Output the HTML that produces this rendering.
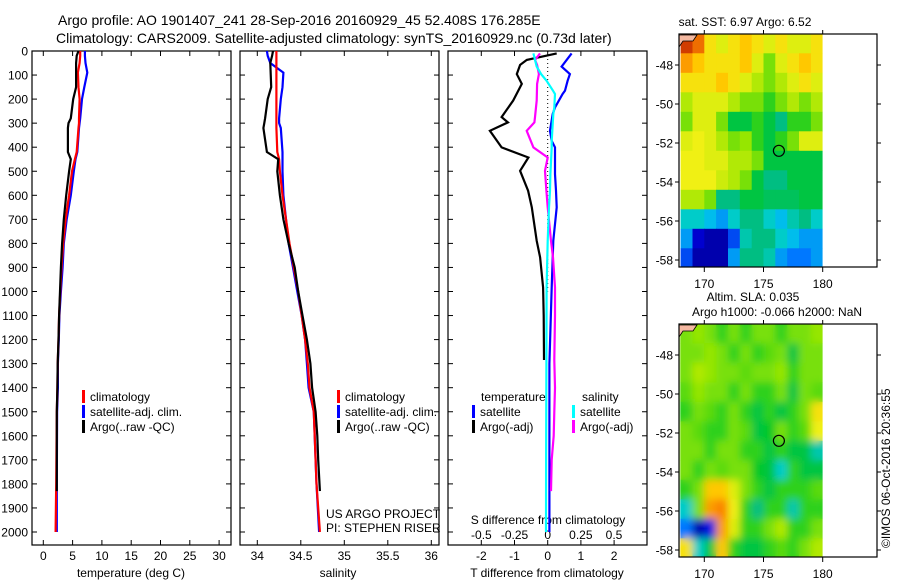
<!DOCTYPE html>
<html><head><meta charset="utf-8">
<style>
html,body{margin:0;padding:0;background:#fff;}
svg{display:block;font-family:"Liberation Sans",sans-serif;}
text{fill:#000;}
</style></head>
<body>
<svg id="fig" width="900" height="580" viewBox="0 0 900 580" xmlns="http://www.w3.org/2000/svg">
<text x="58" y="25" font-size="14">Argo profile: AO 1901407_241 28-Sep-2016 20160929_45 52.408S 176.285E</text>
<text x="56" y="43" font-size="14">Climatology: CARS2009. Satellite-adjusted climatology: synTS_20160929.nc (0.73d later)</text>
<g id="layer"></g>
</svg>
<script>
// ---------- data ----------
const tDepth   = [0,20,50,90,150,200,280,300,320,420,450,500,600,700,800,900,1000,1100,1200,1300,1400,1500,1800,2000];
const tClim    = [6.3,6.3,6.2,5.9,6.0,6.2,6.1,6.1,6.0,5.7,5.4,4.9,4.4,3.8,3.4,3.1,2.9,2.7,2.6,2.45,2.4,2.3,2.2,2.1];
const tSat     = [7.1,7.1,7.2,7.5,7.0,6.6,6.3,6.2,6.1,5.8,5.5,5.2,4.7,4.0,3.5,3.3,3.0,2.75,2.65,2.5,2.5,2.35,2.3,2.3];
const aDepth   = [0,20,50,150,200,280,300,320,420,450,500,600,700,800,900,1000,1100,1200,1300,1400,1500,1600,1700,1830];
const tArgo    = [6.0,5.7,5.6,5.6,5.1,4.7,4.3,4.2,4.2,4.7,4.4,3.9,3.5,3.2,3.0,2.85,2.7,2.6,2.45,2.4,2.3,2.3,2.3,2.3];
const sClim    = [34.22,34.22,34.22,34.22,34.22,34.22,34.22,34.22,34.22,34.23,34.25,34.26,34.29,34.33,34.37,34.42,34.47,34.51,34.55,34.58,34.60,34.65,34.68,34.72];
const sSat     = [34.11,34.12,34.15,34.30,34.29,34.27,34.25,34.25,34.27,34.29,34.29,34.29,34.30,34.33,34.36,34.41,34.46,34.51,34.55,34.57,34.59,34.65,34.68,34.71];
const sArgo    = [34.18,34.17,34.15,34.16,34.12,34.09,34.08,34.07,34.11,34.24,34.23,34.26,34.30,34.36,34.43,34.47,34.52,34.57,34.61,34.63,34.67,34.69,34.70,34.72];
const dDepth   = [10,37,58,96,137,206,275,297,332,401,443,498,581,650,789,858,983,1100,1285];
const dTArgo   = [0.27,-0.63,-0.83,-0.93,-0.78,-1.04,-1.39,-1.2,-1.74,-1.39,-0.58,-0.83,-0.59,-0.48,-0.33,-0.23,-0.14,-0.12,-0.11];
const dSArgo   = [-0.058,-0.096,-0.08,-0.066,-0.08,-0.083,-0.096,-0.1,-0.158,-0.108,0.0,-0.02,-0.01,0.0,0.025,0.04,0.055,0.055,0.05];
const eDepth   = [10,65,96,124,165,179,235,262,332,374,401,512,581,650,789,983,1300,1700,2000];
const dTSat    = [0.72,0.42,0.67,0.6,0.52,0.45,0.22,0.15,0.07,0.12,0.22,0.22,0.25,0.27,0.17,0.12,0.05,0.05,0.05];
const dSSat    = [-0.108,-0.083,-0.05,-0.008,0.04,0.055,0.05,0.042,0.035,0.03,0.03,0.02,0.017,0.01,0.0,-0.008,-0.01,-0.012,-0.013];
const dSArgoDeep = [0.05,0.055,0.05,0.045,0.03,0.025];
const dSArgoDeepDepth = [1285,1400,1500,1600,1700,1830];
const depthTicks = [0,100,200,300,400,500,600,700,800,900,1000,1100,1200,1300,1400,1500,1600,1700,1800,1900,2000];
const tTicks = [0,5,10,15,20,25,30];
const sTicks = [34,34.5,35,35.5,36];
const sTickLabels = ["34","34.5","35","35.5","36"];
const dtTicks = [-2,-1,0,1,2];
const dsTicks = [-0.5,-0.25,0,0.25,0.5];
const dsTickLabels = ["-0.5","-0.25","0","0.25","0.5"];
const lonTicks = [170,175,180];
const latTicks = [-48,-50,-52,-54,-56,-58];
const sstGrid = [
[0.95,0.9,0.75,0.7,0.75,0.8,0.75,0.7,0.75,0.7,0.7,0.75],
[0.85,0.8,0.75,0.75,0.75,0.8,0.7,0.6,0.7,0.75,0.8,0.75],
[0.75,0.75,0.75,0.8,0.75,0.7,0.65,0.6,0.65,0.7,0.75,0.7],
[0.65,0.7,0.7,0.7,0.65,0.6,0.6,0.55,0.6,0.65,0.6,0.65],
[0.6,0.7,0.7,0.6,0.5,0.5,0.55,0.5,0.45,0.55,0.55,0.6],
[0.7,0.72,0.7,0.65,0.6,0.62,0.55,0.5,0.55,0.6,0.7,0.7],
[0.72,0.72,0.7,0.7,0.65,0.65,0.6,0.5,0.5,0.5,0.5,0.5],
[0.72,0.72,0.72,0.68,0.65,0.6,0.5,0.45,0.45,0.5,0.5,0.5],
[0.65,0.65,0.6,0.45,0.45,0.5,0.5,0.48,0.48,0.48,0.5,0.5],
[0.4,0.4,0.35,0.3,0.4,0.45,0.45,0.4,0.35,0.42,0.45,0.4],
[0.3,0.1,0.05,0.05,0.2,0.42,0.45,0.45,0.4,0.35,0.3,0.3],
[0.2,0.05,0.05,0.05,0.3,0.45,0.45,0.42,0.3,0.25,0.25,0.3]];
const slaGrid = [
[0.6,0.62,0.6,0.55,0.6,0.55,0.6,0.6,0.55,0.6,0.6,0.62],
[0.6,0.6,0.62,0.6,0.55,0.6,0.55,0.58,0.6,0.5,0.6,0.6],
[0.6,0.65,0.62,0.6,0.6,0.58,0.6,0.6,0.62,0.55,0.6,0.6],
[0.58,0.62,0.6,0.6,0.55,0.6,0.55,0.55,0.6,0.5,0.6,0.58],
[0.55,0.6,0.58,0.55,0.6,0.55,0.5,0.55,0.5,0.55,0.6,0.75],
[0.6,0.58,0.55,0.55,0.6,0.58,0.5,0.52,0.6,0.55,0.58,0.72],
[0.6,0.6,0.55,0.6,0.6,0.55,0.55,0.5,0.55,0.5,0.5,0.42],
[0.6,0.55,0.6,0.58,0.6,0.6,0.52,0.5,0.4,0.55,0.5,0.5],
[0.55,0.6,0.8,0.8,0.7,0.6,0.55,0.5,0.55,0.55,0.55,0.58],
[0.4,0.6,0.85,0.88,0.72,0.55,0.45,0.55,0.55,0.42,0.55,0.55],
[0.25,0.05,0.15,0.85,0.7,0.55,0.55,0.6,0.65,0.55,0.55,0.6],
[0.75,0.4,0.5,0.8,0.55,0.5,0.5,0.55,0.58,0.55,0.6,0.65]];
const argoLon = 176.3, argoLat = -52.4;

// ---------- helpers ----------
const NS="http://www.w3.org/2000/svg";
const L=document.getElementById('layer');
function mk(tag,attrs,parent){const e=document.createElementNS(NS,tag);for(const k in attrs)e.setAttribute(k,attrs[k]);(parent||L).appendChild(e);return e;}
const yD = d => 51 + d*0.2405;
const xT = t => 43.3 + t*5.86;
const xS = s => 257.3 + (s-34)*87;
const xDT = t => 547.7 + t*33.2;
const xDS = s => 547.7 + s*132.6;
const xLon = lo => 704.3 + (lo-170)*11.84;
const yLat1 = la => 65 + (-48-la)*19.5;
const yLat2 = la => 355 + (-48-la)*19.5;

function line(xs,ys,fx,color,name){
  const p=xs.map((v,i)=>fx(v).toFixed(1)+','+yD(ys[i]).toFixed(1)).join(' ');
  const e=mk('polyline',{points:p,fill:'none',stroke:color,'stroke-width':2.2});
  
  
}
function txt(x,y,s,size,anchor,name){
  const e=mk('text',{x:x,y:y,'font-size':size,'text-anchor':anchor||'start'});
  e.textContent=s;
  
  
  return e;
}
function frame(x,y,w,h,name){
  const e=mk('rect',{x:x,y:y,width:w,height:h,fill:'none',stroke:'#000','stroke-width':1.2});
  
  
}
function jet(v){
  const stops=[[0,[0,0,140]],[0.12,[0,0,220]],[0.25,[0,120,255]],[0.38,[0,210,230]],[0.45,[0,190,130]],[0.52,[0,200,40]],[0.62,[150,230,0]],[0.72,[240,240,20]],[0.8,[255,200,0]],[0.88,[250,130,0]],[1,[180,10,0]]];
  for(let i=1;i<stops.length;i++){if(v<=stops[i][0]){const a=stops[i-1],b=stops[i],f=(v-a[0])/(b[0]-a[0]);return 'rgb('+a[1].map((c,j)=>Math.round(c+(b[1][j]-c)*f)).join(',')+')';}}
  return 'rgb(180,10,0)';
}

// ---------- profile panels ----------
const panels=[[32,'temperature-panel'],[240,'salinity-panel'],[448,'difference-panel']];
panels.forEach(p=>frame(p[0],51,199,494,p[1]+'-frame'));
depthTicks.forEach(d=>{
  const y=yD(d);
  txt(28,y+4.5,String(d),12,'end','depth-tick-label');
  [32,240,448].forEach(x0=>{
    mk('line',{x1:x0,y1:y,x2:x0+5,y2:y,stroke:'#000'});
    mk('line',{x1:x0+199,y1:y,x2:x0+194,y2:y,stroke:'#000'});
  });
});
tTicks.forEach(t=>{const x=xT(t);mk('line',{x1:x,y1:545,x2:x,y2:540,stroke:'#000'});mk('line',{x1:x,y1:51,x2:x,y2:56,stroke:'#000'});txt(x,560,String(t),12,'middle','temperature-tick-label');});
sTicks.forEach((s,i)=>{const x=xS(s);mk('line',{x1:x,y1:545,x2:x,y2:540,stroke:'#000'});mk('line',{x1:x,y1:51,x2:x,y2:56,stroke:'#000'});txt(x,560,sTickLabels[i],12,'middle','salinity-tick-label');});
dtTicks.forEach(t=>{const x=xDT(t);mk('line',{x1:x,y1:545,x2:x,y2:540,stroke:'#000'});mk('line',{x1:x,y1:51,x2:x,y2:56,stroke:'#000'});txt(x,560,String(t),12,'middle','t-diff-tick-label');});
dsTicks.forEach((s,i)=>{txt(xDS(s),539,dsTickLabels[i],12,'middle','s-diff-tick-label');});
txt(131,577,'temperature (deg C)',12,'middle','temperature-axis-title');
txt(338,577,'salinity',12,'middle','salinity-axis-title');
txt(547,577,'T difference from climatology',12,'middle','t-diff-axis-title');
txt(548,524,'S difference from climatology',12,'middle','s-diff-axis-title');

mk('line',{x1:xDT(0),y1:yD(0),x2:xDT(0),y2:yD(1000),stroke:'#000','stroke-dasharray':'1,3'});

line(tSat,tDepth,xT,'#0000ff','temperature-satellite-line');
line(tClim,tDepth,xT,'#ff0000','temperature-climatology-line');
line(tArgo,aDepth,xT,'#000','temperature-argo-line');
line(sSat,tDepth,xS,'#0000ff','salinity-satellite-line');
line(sClim,tDepth,xS,'#ff0000','salinity-climatology-line');
line(sArgo,aDepth,xS,'#000','salinity-argo-line');
line(dTArgo,dDepth,xDT,'#000','t-diff-argo-line');
line(dTSat,eDepth,xDT,'#0000ff','t-diff-satellite-line');
line(dSArgo,dDepth,xDS,'#ff00ff','s-diff-argo-line');
line(dSArgoDeep,dSArgoDeepDepth,xDS,'#ff00ff','s-diff-argo-deep-line');
line(dSSat,eDepth,xDS,'#00ffff','s-diff-satellite-line');

function leg(x,y,color,label,name){
  mk('rect',{x:x,y:y-10,width:3,height:13,fill:color});
  txt(x+8,y+1,label,12,'start',name);
}
leg(82,400,'#ff0000','climatology','legend-climatology');
leg(82,415,'#0000ff','satellite-adj. clim.','legend-satellite-adj');
leg(82,430,'#000','Argo(..raw -QC)','legend-argo');
leg(337,400,'#ff0000','climatology','legend2-climatology');
leg(337,415,'#0000ff','satellite-adj. clim.','legend2-satellite-adj');
leg(337,430,'#000','Argo(..raw -QC)','legend2-argo');
txt(481,401,'temperature',12,'start','legend-temperature-header');
leg(472,415,'#0000ff','satellite','legend-t-satellite');
leg(472,430,'#000','Argo(-adj)','legend-t-argo');
txt(582,401,'salinity',12,'start','legend-salinity-header');
leg(572,415,'#00ffff','satellite','legend-s-satellite');
leg(572,430,'#ff00ff','Argo(-adj)','legend-s-argo');
txt(326,518,'US ARGO PROJECT',12,'start','project-label');
txt(326,532,'PI: STEPHEN RISER',12,'start','pi-label');

// ---------- maps ----------
function cells(grid,yLat,parent){
  grid.forEach((row,r)=>row.forEach((v,c)=>{
    const x0=xLon(168+c), y0=yLat(-46.4-r);
    const cell=mk('rect',{x:x0.toFixed(1),y:y0.toFixed(1),width:12.4,height:20,fill:jet(v)},parent);
    
    
  }));
}
function map(grid,yLat,top,name,blur){
  const g=mk('g',{});
  
  
  const cp=mk('clipPath',{id:'clip'+name},g);
  mk('rect',{x:679,y:top,width:xLon(180)-679,height:233},cp);
  const base=mk('g',{'clip-path':'url(#clip'+name+')'},g);
  cells(grid,yLat,base);
  if(blur){
    const bg=mk('g',{'clip-path':'url(#clip'+name+')'},g);
    const inner=mk('g',{filter:'url(#blur)'},bg);
    cells(grid,yLat,inner);
  }
  mk('rect',{x:xLon(180),y:top,width:877-xLon(180),height:233,fill:'#fff'},g);
  mk('path',{d:'M679 '+(top+1)+' h18 l-4 6 h-10 l-4 6 z',fill:'#f4b8a0',stroke:'#000','stroke-width':0.8},g);
  frame(679,top,198,233,name+'-frame');
  lonTicks.forEach(lo=>{const x=xLon(lo);mk('line',{x1:x,y1:top+233,x2:x,y2:top+238,stroke:'#000'});mk('line',{x1:x,y1:top,x2:x,y2:top-4,stroke:'#000'});txt(x,top+254,String(lo),12,'middle','longitude-tick-label');});
  latTicks.forEach(la=>{const y=yLat(la);mk('line',{x1:679,y1:y,x2:675,y2:y,stroke:'#000'});mk('line',{x1:877,y1:y,x2:881,y2:y,stroke:'#000'});txt(673,y+4.5,String(la),12,'end','latitude-tick-label');});
  const c=mk('circle',{cx:xLon(argoLon),cy:yLat(argoLat),r:5.5,fill:'none',stroke:'#000','stroke-width':1.2},g);
  
  
}
const defs=mk('defs',{});
const f=mk('filter',{id:'blur',x:'-5%',y:'-5%',width:'110%',height:'110%'},defs);
mk('feGaussianBlur',{stdDeviation:4},f);
map(sstGrid,yLat1,34,'sst-map',false);
map(slaGrid,yLat2,324,'sla-map',true);
txt(745,26,'sat. SST: 6.97 Argo: 6.52',12,'middle','sst-map-title');
txt(753,301,'Altim. SLA: 0.035',12,'middle','sla-map-title-1');
txt(777,316,'Argo h1000: -0.066 h2000: NaN',12,'middle','sla-map-title-2');
const cr=txt(0,0,'\u00A9IMOS 06-Oct-2016 20:36:55',12,'start','imos-credit');
cr.setAttribute('transform','translate(890,548) rotate(-90)');
</script>
</body></html>
